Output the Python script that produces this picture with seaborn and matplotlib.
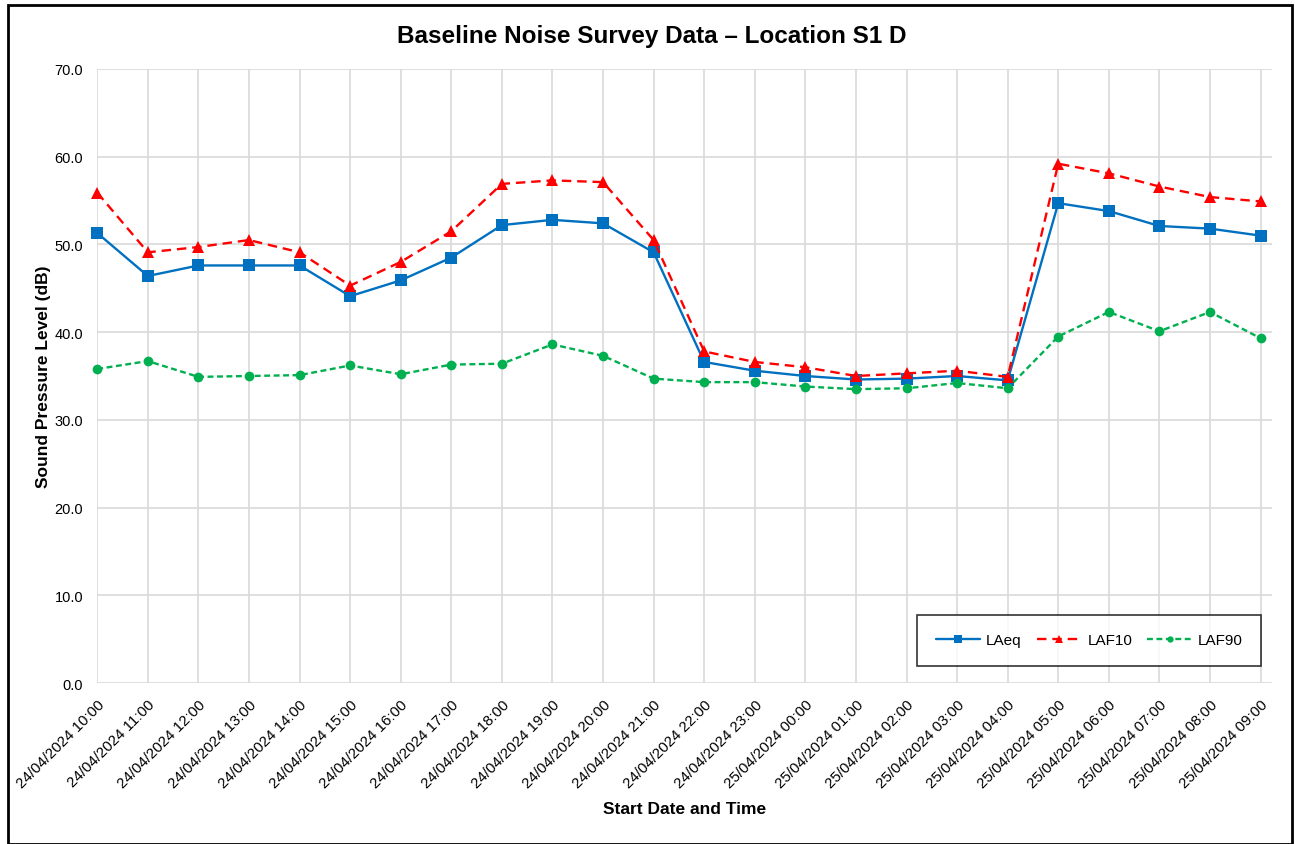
import numpy as np
import pandas as pd
import matplotlib
matplotlib.use('Agg')
import matplotlib.pyplot as plt
import seaborn as sns

# Dados
times = ['24/04/2024 10:00', '24/04/2024 11:00', '24/04/2024 12:00', '24/04/2024 13:00',
         '24/04/2024 14:00', '24/04/2024 15:00', '24/04/2024 16:00', '24/04/2024 17:00',
         '24/04/2024 18:00', '24/04/2024 19:00', '24/04/2024 20:00', '24/04/2024 21:00',
         '24/04/2024 22:00', '24/04/2024 23:00', '25/04/2024 00:00', '25/04/2024 01:00',
         '25/04/2024 02:00', '25/04/2024 03:00', '25/04/2024 04:00', '25/04/2024 05:00',
         '25/04/2024 06:00', '25/04/2024 07:00', '25/04/2024 08:00', '25/04/2024 09:00']
laeq = [51.3, 46.4, 47.6, 47.6, 47.6, 44.1, 45.9, 48.5, 52.2, 52.8, 52.4, 49.1,
        36.6, 35.6, 35.0, 34.6, 34.7, 35.0, 34.5, 54.7, 53.8, 52.1, 51.8, 51.0]
laf10 = [55.9, 49.1, 49.7, 50.5, 49.1, 45.3, 48.0, 51.5, 56.9, 57.3, 57.1, 50.5,
         37.8, 36.6, 36.0, 35.0, 35.3, 35.6, 34.9, 59.2, 58.1, 56.6, 55.4, 54.9]
laf90 = [35.8, 36.7, 34.9, 35.0, 35.1, 36.2, 35.2, 36.3, 36.4, 38.6, 37.3, 34.7,
         34.3, 34.3, 33.8, 33.5, 33.6, 34.2, 33.6, 39.5, 42.3, 40.1, 42.3, 39.3]
y_ticks = [0, 10, 20, 30, 40, 50, 60, 70]

sns.set_style('white')
plt.rcParams['font.family'] = ['Liberation Sans', 'DejaVu Sans']
plt.rcParams['text.color'] = 'black'
plt.rcParams['axes.labelcolor'] = 'black'
plt.rcParams['xtick.color'] = 'black'
plt.rcParams['ytick.color'] = 'black'

df = pd.DataFrame({'idx': np.arange(len(times)), 'LAeq': laeq, 'LAF10': laf10, 'LAF90': laf90})

fig = plt.figure(figsize=(12.95, 8.45), dpi=100)
ax = fig.add_axes([0.0751, 0.1905, 0.9069, 0.7267])

sns.lineplot(data=df, x='idx', y='LAeq', ax=ax, color='#0070C0', linewidth=1.7,
             marker='s', markersize=8.5, markeredgewidth=0, label='LAeq', clip_on=False)
sns.lineplot(data=df, x='idx', y='LAF10', ax=ax, color='#FF0000', linewidth=1.7,
             linestyle=(0, (4, 2.5)), marker='^', markersize=8.5, markeredgewidth=0,
             label='LAF10', clip_on=False)
sns.lineplot(data=df, x='idx', y='LAF90', ax=ax, color='#00B050', linewidth=1.7,
             linestyle=(0, (2.5, 1.5)), marker='o', markersize=7, markeredgewidth=0,
             label='LAF90', clip_on=False)

ax.set_xlim(0, len(times) - 1 + 0.22)
ax.set_ylim(0, 70)
ax.set_yticks(y_ticks)
ax.set_yticklabels([f'{v:.1f}' for v in y_ticks], fontsize=10.5)
ax.set_xticks(np.arange(len(times)))
ax.set_xticklabels(times, rotation=45, ha='right', rotation_mode='anchor', fontsize=10.8)
ax.tick_params(axis='y', length=0, pad=10)
ax.tick_params(axis='x', length=0, pad=10)
ax.grid(True, color='#D9D9D9', linewidth=1.2)
ax.set_axisbelow(True)
for s in ax.spines.values():
    s.set_visible(False)

ax.set_xlabel('Start Date and Time', fontsize=12.5, fontweight='bold', labelpad=8)
ax.set_ylabel('Sound Pressure Level (dB)', fontsize=12.5, fontweight='bold', labelpad=3)
fig.text(0.5035, 0.957, 'Baseline Noise Survey Data – Location S1 D', ha='center', va='center',
         fontsize=17.5, fontweight='bold')

leg = ax.legend(loc='lower right', ncol=3, fontsize=11, frameon=True, fancybox=False,
                bbox_to_anchor=(0.9975, 0.016), borderpad=1.2, handlelength=2.9,
                columnspacing=1.0, handletextpad=0.4, markerscale=0.65)
leg.get_frame().set_edgecolor('black')
leg.get_frame().set_linewidth(1.2)

# Borda externa da figura
fig.patches.append(plt.Rectangle((0.006, 0.0), 0.992, 0.993, transform=fig.transFigure,
                                 fill=False, edgecolor='black', linewidth=2))

plt.savefig('out.png', dpi=100)
